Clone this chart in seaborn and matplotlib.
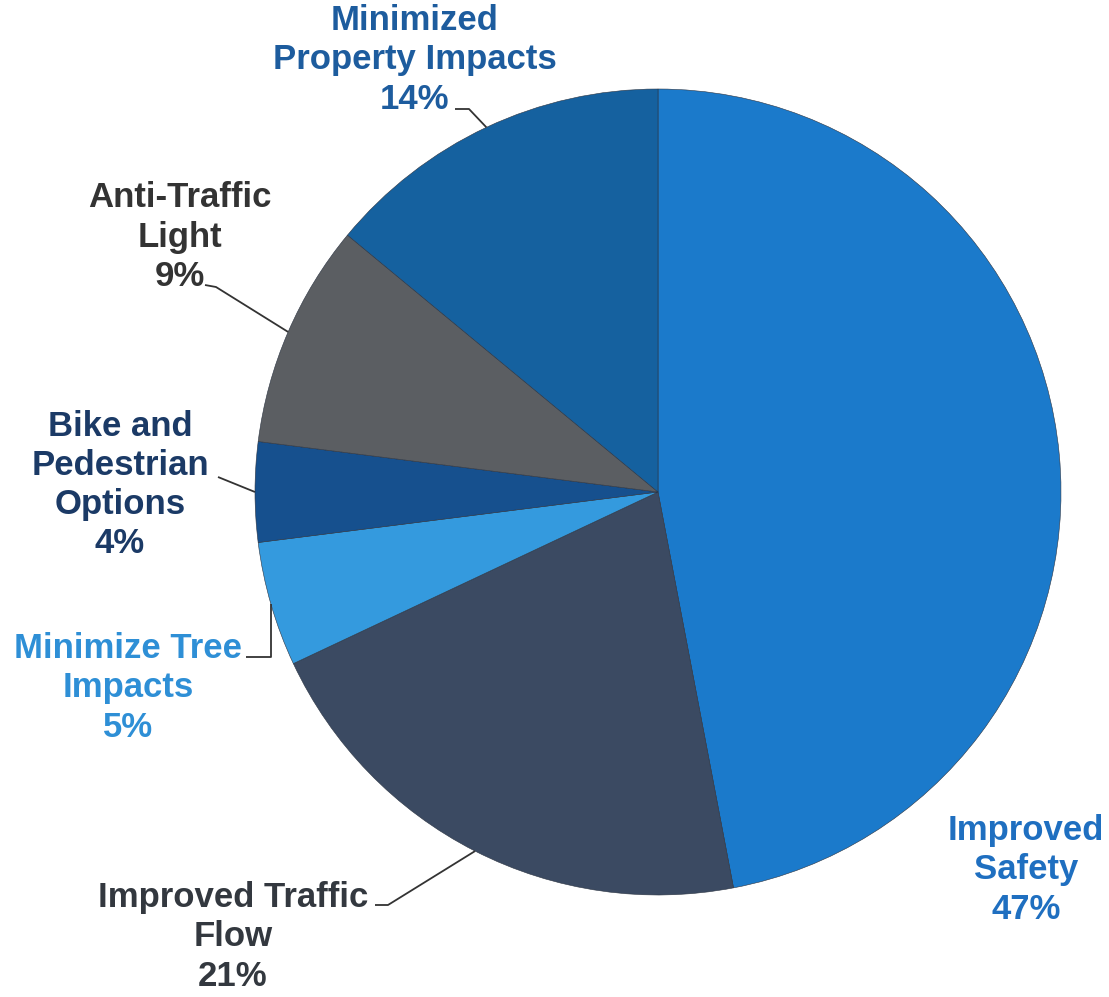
import numpy as np
import matplotlib
matplotlib.use("Agg")
import matplotlib.pyplot as plt
import seaborn as sns

sns.set_theme(style="white")
plt.rcParams["font.family"] = ["Liberation Sans", "DejaVu Sans"]

# Survey priorities, clockwise from 12 o'clock
categories = ["Improved\nSafety", "Improved Traffic\nFlow", "Minimize Tree\nImpacts",
              "Bike and\nPedestrian\nOptions", "Anti-Traffic\nLight", "Minimized\nProperty Impacts"]
shares = [47, 21, 5, 4, 9, 14]
slice_colors = ["#1b7acb", "#3b4a62", "#349ade", "#16508e", "#5b5e62", "#15619f"]
label_colors = ["#1f6fc0", "#33383f", "#2e8fd6", "#1b3a66", "#333333", "#1d5c9e"]

W, H = 1109, 997
fig = plt.figure(figsize=(W / 100, H / 100), dpi=100)
ax = fig.add_axes([0, 0, 1, 1])


def fy(y):
    return H - y


cx, cy, R = 658, fy(492), 403
wedges, _ = ax.pie(shares, colors=slice_colors, startangle=90, counterclock=False,
                   center=(cx, cy), radius=R, frame=True,
                   wedgeprops=dict(edgecolor="#2b3442", linewidth=0.4))
ax.set_xlim(0, W)
ax.set_ylim(0, H)
ax.set_aspect("equal")
ax.axis("off")

# label block centres and leader elbows (None = no leader, "v" = drop vertically to the wedge)
label_pos = [(1026, 870), (233, 937), (128, 688), (120, 485), (180, 237), (415, 60)]
leaders = [
    None,
    [(375, 905), (388, 905)],
    "v",
    [(218, 477)],
    [(205, 285), (216, 287)],
    [(455, 109), (469, 109)],
]

for wedge, name, share, col, (tx, ty), lead in zip(wedges, categories, shares,
                                                  label_colors, label_pos, leaders):
    ax.text(tx, fy(ty), f"{name}\n{share}%", ha="center", va="center",
            color=col, fontsize=25, fontweight="bold", linespacing=1.24)
    if lead is None:
        continue
    mid = np.deg2rad((wedge.theta1 + wedge.theta2) / 2)
    ax_pt = (cx + R * np.cos(mid), cy + R * np.sin(mid))
    if lead == "v":
        lead = [(246, 657), (ax_pt[0], 657)]
    xs = [p[0] for p in lead] + [ax_pt[0]]
    ys = [fy(p[1]) for p in lead] + [ax_pt[1]]
    ax.plot(xs, ys, color="#333333", lw=1.3, solid_capstyle="butt")

fig.savefig("out.png", dpi=100, facecolor="white")
